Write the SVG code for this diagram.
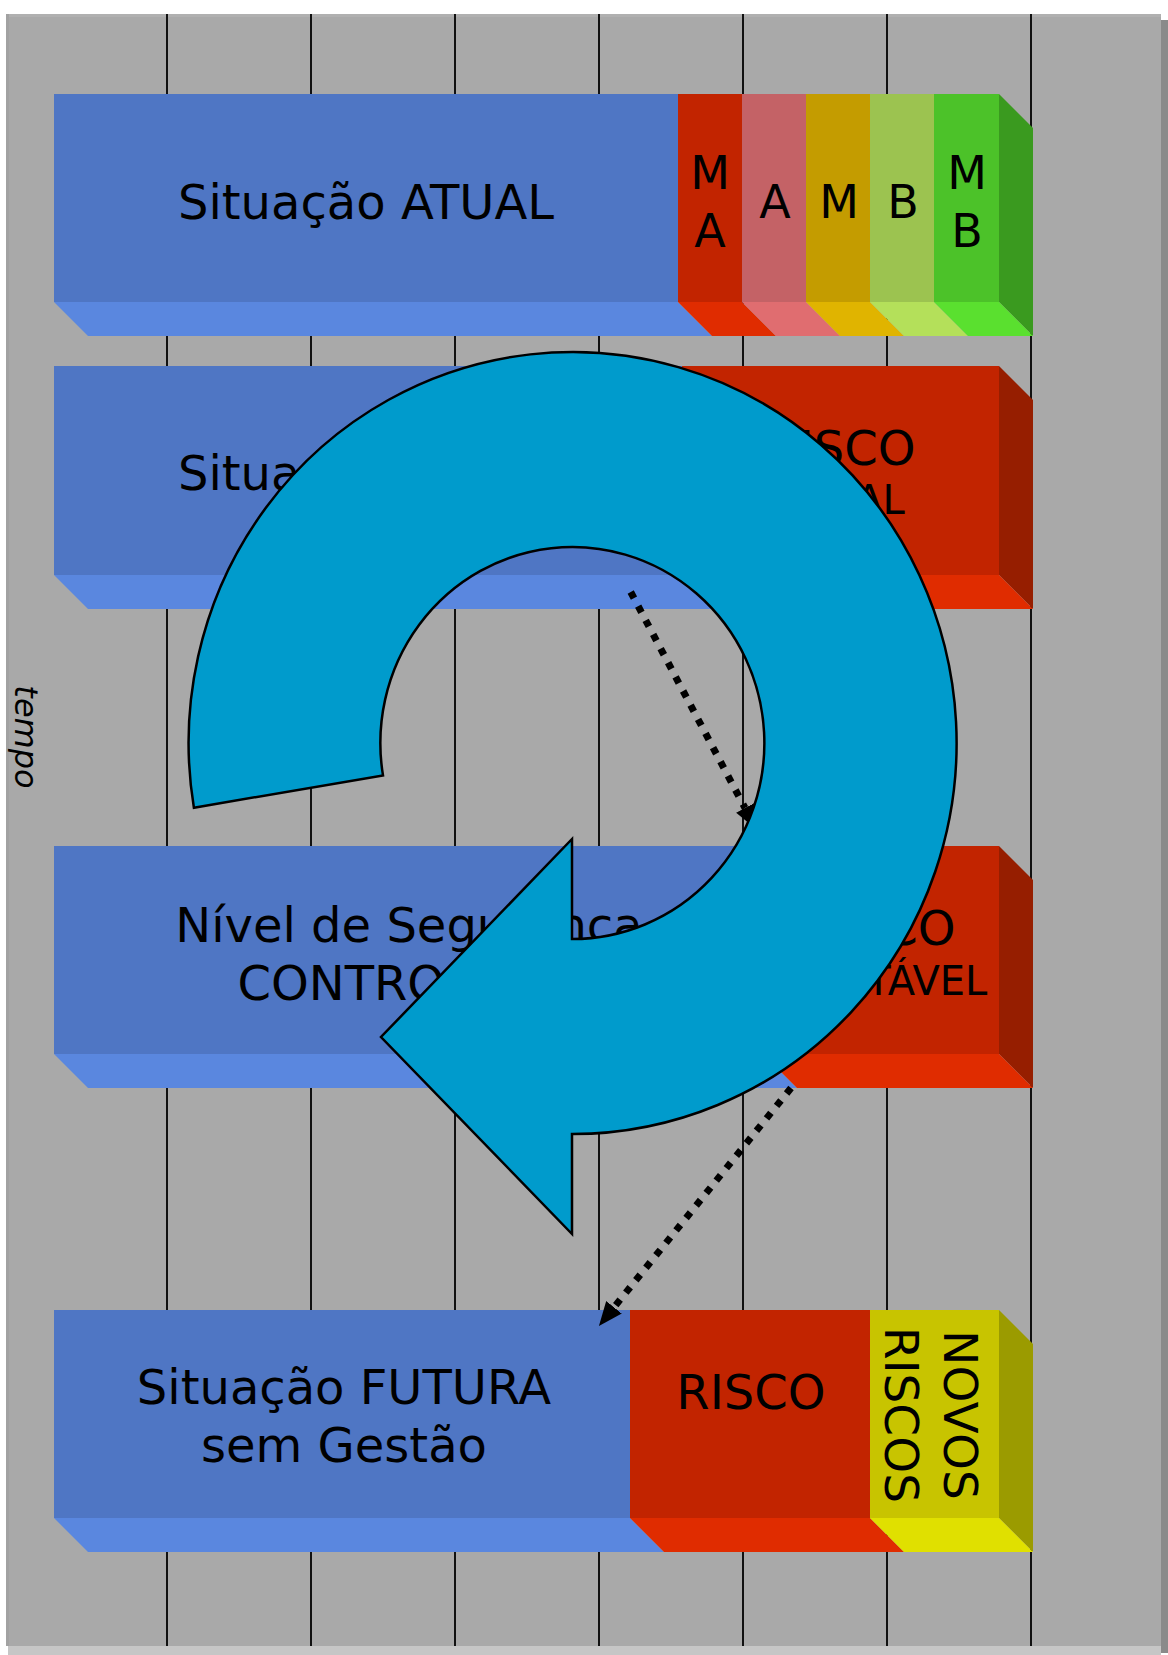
<svg xmlns="http://www.w3.org/2000/svg" width="1168" height="1655" viewBox="0 0 1168 1655">
<defs>
<style>
.t{font-family:"DejaVu Sans","Liberation Sans",sans-serif;font-size:48px;fill:#000;text-anchor:middle}
.s{font-size:40px}
.l{font-size:46px}
.grid line{stroke:#000;stroke-width:1.8}
.blue{fill:#4F76C4}.blueb{fill:#5A87DF}
.red{fill:#C22400}.redb{fill:#E02C00}.reds{fill:#961E00}
.pink{fill:#C46266}.pinkb{fill:#E06D70}
.mus{fill:#C49C00}.musb{fill:#E0B400}
.lg{fill:#9CC350}.lgb{fill:#B4E05A}
.gr{fill:#4CC229}.grb{fill:#5AE02F}.grs{fill:#3A9A1F}
.ye{fill:#C8C400}.yeb{fill:#E0E000}.yes{fill:#9B9B00}
.dot{fill:none;stroke:#000;stroke-width:7;stroke-dasharray:7 9}
</style>
<marker id="ah" markerUnits="userSpaceOnUse" markerWidth="26" markerHeight="22" refX="0" refY="10" orient="auto">
<path d="M0,0 L24,10 L0,20 Z" fill="#000"/>
</marker>
</defs>
<rect x="0" y="0" width="1168" height="1655" fill="#fff"/>
<g id="background">
<rect x="6" y="14" width="1155" height="1632" fill="#A9A9A9"/>
<rect x="6" y="14" width="1155" height="3" fill="#B0B0B0"/>
<rect x="6" y="14" width="3" height="1632" fill="#A2A2A2"/>
<rect x="1161" y="20" width="7" height="1633" fill="#8A8A8A"/>
<rect x="8" y="1646" width="1153" height="9" fill="#C6C6C6"/>
</g>
<g id="grid" class="grid">
<line x1="167" y1="14" x2="167" y2="1646"/>
<line x1="311" y1="14" x2="311" y2="1646"/>
<line x1="455" y1="14" x2="455" y2="1646"/>
<line x1="599" y1="14" x2="599" y2="1646"/>
<line x1="743" y1="14" x2="743" y2="1646"/>
<line x1="887" y1="14" x2="887" y2="1646"/>
<line x1="1031" y1="14" x2="1031" y2="1646"/>
</g>
<g id="tempo">
<text class="t" style="font-size:32px;font-style:italic" transform="translate(15,737) rotate(90)">tempo</text>
</g>
<g id="bar1">
<rect class="blue" x="54" y="94" width="624" height="208"/>
<rect class="red" x="678" y="94" width="64" height="208"/>
<rect class="pink" x="742" y="94" width="64" height="208"/>
<rect class="mus" x="806" y="94" width="64" height="208"/>
<rect class="lg" x="870" y="94" width="64" height="208"/>
<rect class="gr" x="934" y="94" width="65" height="208"/>
<polygon class="grs" points="999,94 1033,128 1033,336 999,302"/>
<polygon class="blueb" points="54,302 678,302 712,336 88,336"/>
<polygon class="redb" points="678,302 742,302 776,336 712,336"/>
<polygon class="pinkb" points="742,302 806,302 840,336 776,336"/>
<polygon class="musb" points="806,302 870,302 904,336 840,336"/>
<polygon class="lgb" points="870,302 934,302 968,336 904,336"/>
<polygon class="grb" points="934,302 999,302 1033,336 968,336"/>
<text class="t" x="366" y="219">Situação ATUAL</text>
<text class="t l" x="710" y="189">M</text>
<text class="t l" x="710" y="247">A</text>
<text class="t l" x="775" y="218">A</text>
<text class="t l" x="839" y="218">M</text>
<text class="t l" x="903" y="218">B</text>
<text class="t l" x="967" y="189">M</text>
<text class="t l" x="967" y="247">B</text>
</g>
<g id="bar2">
<rect class="blue" x="54" y="366" width="628" height="209"/>
<rect class="red" x="682" y="366" width="317" height="209"/>
<polygon class="reds" points="999,366 1033,400 1033,609 999,575"/>
<polygon class="blueb" points="54,575 682,575 716,609 88,609"/>
<polygon class="redb" points="682,575 999,575 1033,609 716,609"/>
<text class="t" x="366" y="490">Situação ATUAL</text>
<text class="t" x="841" y="465">RISCO</text>
<text class="t s" x="841" y="514">ATUAL</text>
</g>
<g id="bar3">
<rect class="blue" x="54" y="846" width="709" height="208"/>
<rect class="red" x="763" y="846" width="236" height="208"/>
<polygon class="reds" points="999,846 1033,880 1033,1088 999,1054"/>
<polygon class="blueb" points="54,1054 763,1054 797,1088 88,1088"/>
<polygon class="redb" points="763,1054 999,1054 1033,1088 797,1088"/>
<text class="t" x="409" y="942">Nível de Segurança</text>
<text class="t" x="409" y="1000">CONTROLADO</text>
<text class="t" x="881" y="945">RISCO</text>
<text class="t s" x="881" y="995">ACEITÁVEL</text>
</g>
<g id="bar4">
<rect class="blue" x="54" y="1310" width="576" height="208"/>
<rect class="red" x="630" y="1310" width="240" height="208"/>
<rect class="ye" x="870" y="1310" width="129" height="208"/>
<polygon class="yes" points="999,1310 1033,1344 1033,1552 999,1518"/>
<polygon class="blueb" points="54,1518 630,1518 664,1552 88,1552"/>
<polygon class="redb" points="630,1518 870,1518 904,1552 664,1552"/>
<polygon class="yeb" points="870,1518 999,1518 1033,1552 904,1552"/>
<text class="t" x="344" y="1404">Situação FUTURA</text>
<text class="t" x="344" y="1462">sem Gestão</text>
<text class="t" x="751" y="1409">RISCO</text>
<text class="t" style="font-size:47px" transform="translate(944,1415) rotate(90)">NOVOS</text>
<text class="t" style="font-size:47px" transform="translate(885,1415) rotate(90)">RISCOS</text>
</g>
<g id="connectors">
<line class="dot" x1="630.7" y1="592" x2="745" y2="808" marker-end="url(#ah)"/>
<line class="dot" x1="791" y1="1088" x2="614" y2="1307.3" marker-end="url(#ah)"/>
</g>
<g id="cycle">
<path d="M193.9,807.7 A384,391 0 1 1 572,1134 L572,1234 L381,1037 L572,839 L572,939 A192,196 0 1 0 383,775.4 Z" fill="#009BCC" stroke="#000" stroke-width="2.5" stroke-linejoin="miter"/>
</g>
</svg>
